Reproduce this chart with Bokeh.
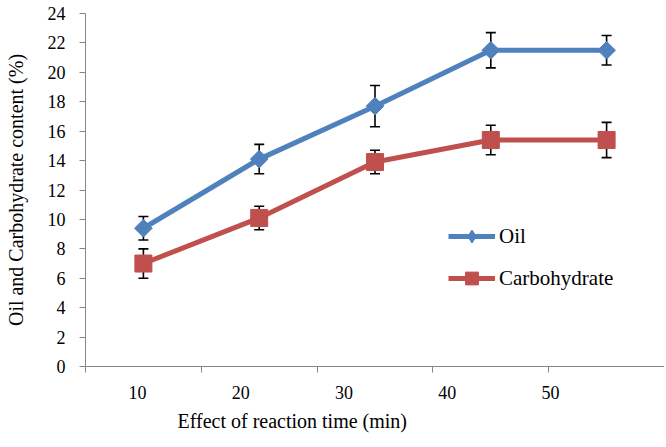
import numpy as np
from bokeh.plotting import figure
from bokeh.models import (Range1d, LinearAxis, FixedTicker,
                          ColumnDataSource, Whisker, TeeHead, Legend, LegendItem, Title)
from bokeh.embed import file_html
from bokeh.resources import INLINE

# ---- data ----
categories = ["10", "20", "30", "40", "50"]
oil = [9.4, 14.1, 17.7, 21.5, 21.5]
oil_err = [0.8, 1.0, 1.4, 1.2, 1.0]
carb = [7.0, 10.1, 13.9, 15.4, 15.4]
carb_err = [1.0, 0.8, 0.8, 1.0, 1.2]
y_ticks = [0, 2, 4, 6, 8, 10, 12, 14, 16, 18, 20, 22, 24]

x_label = "Effect of reaction time (min)"
y_label = "Oil and Carbohydrate content (%)"

BLUE = "#4F81BD"
RED = "#C0504D"
AXIS = "#868686"
FONT = "Liberation Serif"

pos = np.arange(len(categories)) + 1.0
boundaries = [float(b) for b in np.arange(len(categories) + 1) + 0.5]

oil_src = ColumnDataSource(dict(x=pos, y=oil, lo=np.array(oil) - np.array(oil_err),
                                hi=np.array(oil) + np.array(oil_err)))
carb_src = ColumnDataSource(dict(x=pos, y=carb, lo=np.array(carb) - np.array(carb_err),
                                 hi=np.array(carb) + np.array(carb_err)))

p = figure(width=664, height=445, output_backend="svg", toolbar_location=None,
           x_range=Range1d(0.5, len(categories) + 0.5), y_range=Range1d(0, 24),
           x_axis_location=None, y_axis_location=None,
           min_border_left=85, min_border_right=0, min_border_top=13, min_border_bottom=79)
p.outline_line_color = None
p.xgrid.grid_line_color = None
p.ygrid.grid_line_color = None
p.background_fill_color = "white"
p.border_fill_color = "white"

# y axis
yax = LinearAxis(ticker=FixedTicker(ticks=y_ticks))
yax.axis_line_color = AXIS
yax.major_tick_line_color = AXIS
yax.minor_tick_line_color = None
yax.major_tick_out = 6
yax.major_tick_in = 0
yax.major_label_standoff = 14
yax.major_label_text_font = FONT
yax.major_label_text_font_size = "18px"
yax.major_label_text_color = "black"
yax.axis_label = y_label
yax.axis_label_text_font = FONT
yax.axis_label_text_font_size = "20px"
yax.axis_label_text_font_style = "normal"
yax.axis_label_text_color = "black"
yax.axis_label_standoff = 18
p.add_layout(yax, "left")

# x axis: only tick marks on the category boundaries (minor ticks, no labels)
xax = LinearAxis(ticker=FixedTicker(ticks=[], minor_ticks=boundaries))
xax.axis_line_color = AXIS
xax.major_tick_line_color = None
xax.minor_tick_line_color = AXIS
xax.minor_tick_out = 6
xax.minor_tick_in = 0
xax.major_tick_out = 0
xax.major_tick_in = 0
xax.major_label_standoff = 0
p.add_layout(xax, "below")

# x labels axis (labels as placed in the reference)
p.extra_x_ranges = {"labels": Range1d(0.4964, 6.104)}
lax = LinearAxis(x_range_name="labels", ticker=FixedTicker(ticks=list(pos)))
lax.major_label_overrides = {int(v): c for v, c in zip(pos, categories)}
lax.axis_line_color = None
lax.major_tick_line_color = None
lax.minor_tick_line_color = None
lax.major_tick_out = 0
lax.major_tick_in = 0
lax.major_label_standoff = 13
lax.major_label_text_font = FONT
lax.major_label_text_font_size = "18px"
lax.major_label_text_color = "black"
p.add_layout(lax, "below")

xt = Title(text=x_label, align="left", offset=92, text_font=FONT,
           text_font_size="20px", text_font_style="normal", text_color="black",
           standoff=12)
p.add_layout(xt, "below")

# series
l1 = p.line("x", "y", source=oil_src, line_color=BLUE, line_width=5)
l2 = p.line("x", "y", source=carb_src, line_color=RED, line_width=5)

for src in (oil_src, carb_src):
    w = Whisker(source=src, base="x", lower="lo", upper="hi", line_color="black",
                line_width=1.6,
                upper_head=TeeHead(size=10, line_color="black", line_width=1.6),
                lower_head=TeeHead(size=10, line_color="black", line_width=1.6))
    p.add_layout(w)

# legend key for Oil (diamond); drawn underneath the rotated squares
m1_key = p.scatter("x", "y", source=oil_src, marker="diamond", size=12,
                   fill_color=BLUE, line_color=BLUE)

m1 = p.scatter("x", "y", source=oil_src, marker="square", angle=np.pi / 4, size=12.5,
               fill_color=BLUE, line_color=BLUE)
m2 = p.scatter("x", "y", source=carb_src, marker="square", size=17,
               fill_color=RED, line_color=RED)

legend = Legend(items=[LegendItem(label="Oil", renderers=[l1, m1_key]),
                       LegendItem(label="Carbohydrate", renderers=[l2, m2])],
                location=(363, 72))
legend.background_fill_alpha = 0
legend.border_line_color = None
legend.label_text_font = FONT
legend.label_text_font_size = "21px"
legend.label_text_color = "black"
legend.glyph_width = 47
legend.glyph_height = 32
legend.spacing = 10
legend.padding = 0
legend.margin = 0
legend.label_standoff = 4
p.add_layout(legend, "center")

open("out.html", "w").write(file_html(p, INLINE))
